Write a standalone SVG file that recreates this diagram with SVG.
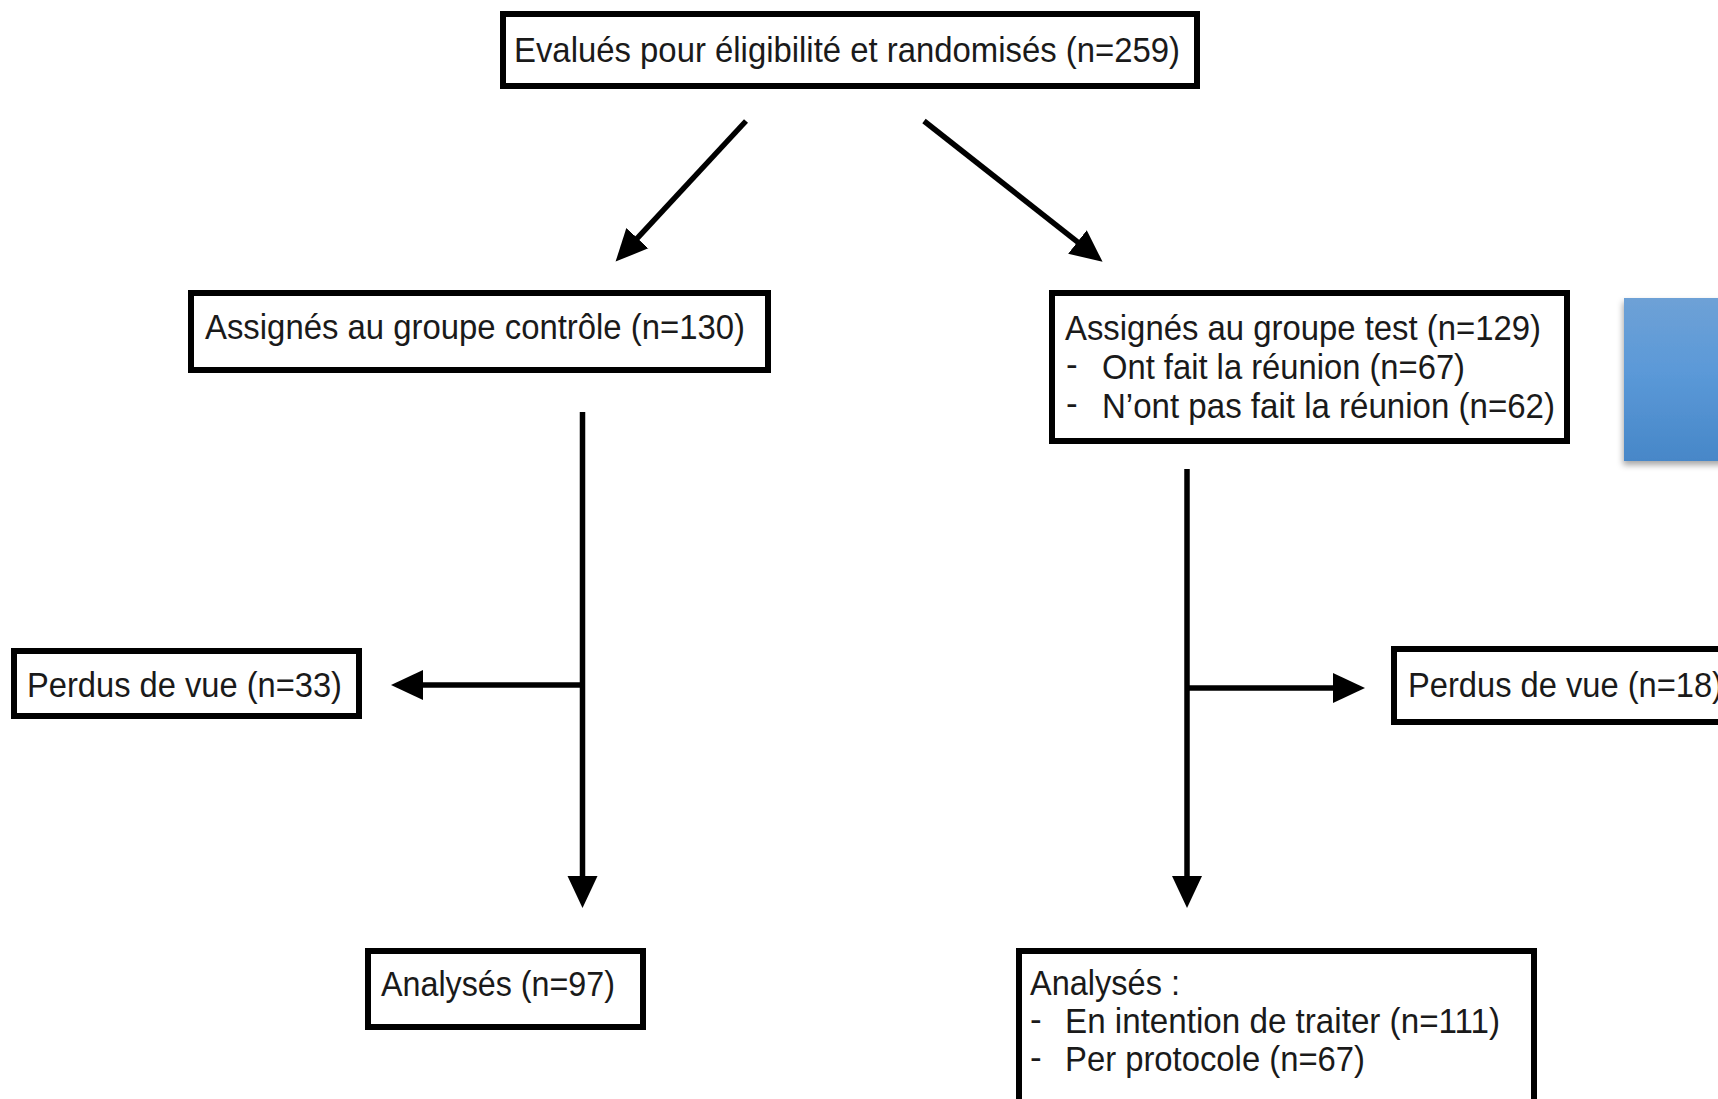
<svg xmlns="http://www.w3.org/2000/svg" width="1718" height="1099" viewBox="0 0 1718 1099">
<defs>
<style>
.box{fill:#fff;stroke:#000;stroke-width:6}
.t{font-family:"Liberation Sans",Arial,Helvetica,sans-serif;font-size:35px;fill:#1a1a1a}
.c{stroke:#000;stroke-width:5.5;fill:none}
</style>
<marker id="ah" markerUnits="userSpaceOnUse" markerWidth="34" markerHeight="32" refX="2" refY="16" orient="auto" viewBox="0 0 34 32">
<path d="M0,1 L32,16 L0,31 z" fill="#000"/>
</marker>
<linearGradient id="blue" x1="0" y1="0" x2="0" y2="1">
<stop offset="0" stop-color="#6ea1d6"/>
<stop offset="0.45" stop-color="#5b99d8"/>
<stop offset="1" stop-color="#4787c8"/>
</linearGradient>
<filter id="sh" x="-20%" y="-10%" width="140%" height="130%">
<feDropShadow dx="-1" dy="4" stdDeviation="3" flood-color="#000" flood-opacity="0.35"/>
</filter>
</defs>
<rect width="1718" height="1099" fill="#fff"/>

<g id="blue-panel">
<rect x="1624" y="298" width="110" height="163" fill="url(#blue)" filter="url(#sh)"/>
</g>

<g id="connectors">
<line class="c" x1="746" y1="121" x2="636" y2="239.6" marker-end="url(#ah)"/>
<line class="c" x1="924" y1="121" x2="1079" y2="243.2" marker-end="url(#ah)"/>
<line class="c" x1="582.5" y1="412" x2="582.5" y2="878" marker-end="url(#ah)"/>
<line class="c" x1="582.5" y1="685" x2="421" y2="685" marker-end="url(#ah)"/>
<line class="c" x1="1187" y1="469" x2="1187" y2="878" marker-end="url(#ah)"/>
<line class="c" x1="1187" y1="688" x2="1335" y2="688" marker-end="url(#ah)"/>
</g>

<g id="node-randomises">
<rect class="box" x="503" y="14" width="694" height="72"/>
<text class="t" x="514" y="62" textLength="666" lengthAdjust="spacingAndGlyphs">Evalués pour éligibilité et randomisés (n=259)</text>
</g>

<g id="node-controle">
<rect class="box" x="191" y="293" width="577" height="77"/>
<text class="t" x="205" y="339" textLength="540" lengthAdjust="spacingAndGlyphs">Assignés au groupe contrôle (n=130)</text>
</g>

<g id="node-test">
<rect class="box" x="1052" y="293" width="515" height="148"/>
<text class="t" x="1065" y="340" textLength="476" lengthAdjust="spacingAndGlyphs">Assignés au groupe test (n=129)</text>
<text class="t" x="1066" y="376">-</text>
<text class="t" x="1102" y="379" textLength="363" lengthAdjust="spacingAndGlyphs">Ont fait la réunion (n=67)</text>
<text class="t" x="1066" y="415">-</text>
<text class="t" x="1102" y="418" textLength="453" lengthAdjust="spacingAndGlyphs">N’ont pas fait la réunion (n=62)</text>
</g>

<g id="node-perdus-controle">
<rect class="box" x="14" y="651" width="345" height="65"/>
<text class="t" x="27" y="697" textLength="315" lengthAdjust="spacingAndGlyphs">Perdus de vue (n=33)</text>
</g>

<g id="node-perdus-test">
<rect class="box" x="1394" y="649" width="340" height="73"/>
<text class="t" x="1408" y="697" textLength="315" lengthAdjust="spacingAndGlyphs">Perdus de vue (n=18)</text>
</g>

<g id="node-analyses-controle">
<rect class="box" x="368" y="951" width="275" height="76"/>
<text class="t" x="381" y="996" textLength="234" lengthAdjust="spacingAndGlyphs">Analysés (n=97)</text>
</g>

<g id="node-analyses-test">
<rect class="box" x="1019" y="951" width="515" height="160"/>
<text class="t" x="1030" y="995" textLength="150" lengthAdjust="spacingAndGlyphs">Analysés :</text>
<text class="t" x="1030" y="1031">-</text>
<text class="t" x="1065" y="1033" textLength="435" lengthAdjust="spacingAndGlyphs">En intention de traiter (n=111)</text>
<text class="t" x="1030" y="1069">-</text>
<text class="t" x="1065" y="1071" textLength="300" lengthAdjust="spacingAndGlyphs">Per protocole (n=67)</text>
</g>
</svg>
